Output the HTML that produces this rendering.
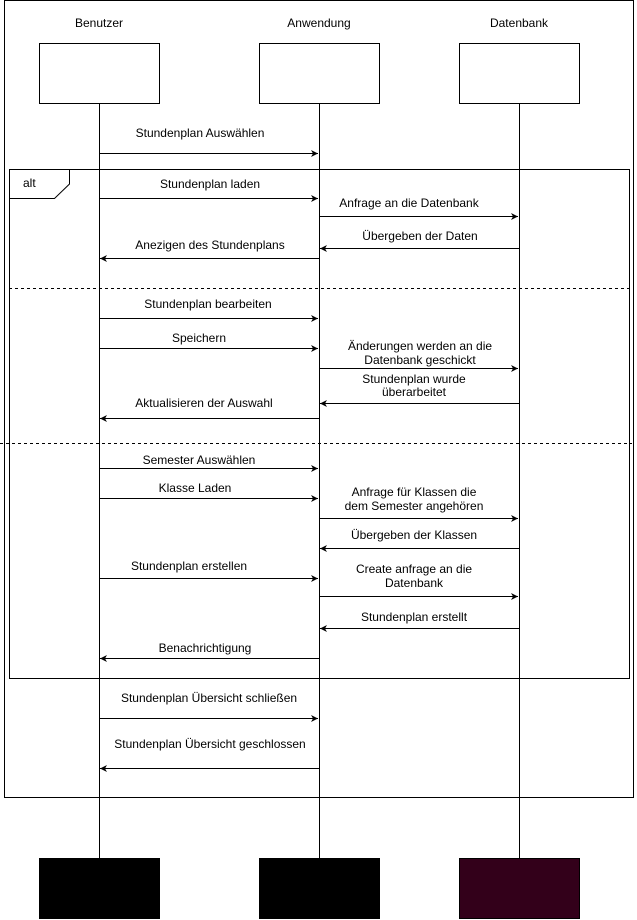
<!DOCTYPE html>
<html><head><meta charset="utf-8"><style>html,body{margin:0;padding:0;background:#fff}svg{display:block}text{font-family:"Liberation Sans",sans-serif;font-size:12px;fill:#000}</style></head><body>
<svg width="637" height="920" viewBox="0 0 637 920" xmlns="http://www.w3.org/2000/svg">
<defs><marker id="a" markerWidth="8" markerHeight="8" refX="7" refY="4" orient="auto" markerUnits="userSpaceOnUse"><path d="M0,0.5 L7,4 L0,7.5 L2,4 Z" fill="#000"/></marker></defs>
<rect x="4.5" y="0.5" width="629" height="797" fill="none" stroke="#000"/>
<g stroke="#000" fill="#fff">
<rect x="39.5" y="43.5" width="120" height="60"/>
<rect x="259.5" y="43.5" width="120" height="60"/>
<rect x="459.5" y="43.5" width="120" height="60"/>
</g>
<g stroke="#000">
<line x1="99.5" y1="104" x2="99.5" y2="858"/>
<line x1="319.5" y1="104" x2="319.5" y2="858"/>
<line x1="519.5" y1="104" x2="519.5" y2="858"/>
</g>
<rect x="39" y="858" width="121" height="61" fill="#000"/>
<rect x="259" y="858" width="121" height="61" fill="#000"/>
<rect x="459.5" y="858.5" width="120" height="60" fill="#33001a" stroke="#000"/>
<g text-anchor="middle">
<text x="99" y="27">Benutzer</text><text x="319" y="27">Anwendung</text><text x="519" y="27">Datenbank</text>
</g>
<rect x="9.5" y="169.5" width="620" height="509" fill="none" stroke="#000"/>
<path d="M9.5,198.5 H54.5 L69.5,184 V169.5" fill="none" stroke="#000"/>
<text x="23" y="187">alt</text>
<g stroke="#000" stroke-dasharray="3,3">
<line x1="9" y1="288.5" x2="630" y2="288.5"/>
<line x1="0" y1="443.5" x2="632" y2="443.5"/>
</g>
<g stroke="#000" marker-end="url(#a)">
<line x1="99" y1="153.5" x2="318" y2="153.5"/>
<line x1="99" y1="198.5" x2="318" y2="198.5"/>
<line x1="319" y1="216.5" x2="518" y2="216.5"/>
<line x1="519" y1="248.5" x2="320" y2="248.5"/>
<line x1="319" y1="258.5" x2="100" y2="258.5"/>
<line x1="99" y1="318.5" x2="318" y2="318.5"/>
<line x1="99" y1="348.5" x2="318" y2="348.5"/>
<line x1="319" y1="368.5" x2="518" y2="368.5"/>
<line x1="519" y1="403.5" x2="320" y2="403.5"/>
<line x1="319" y1="418.5" x2="100" y2="418.5"/>
<line x1="99" y1="468.5" x2="318" y2="468.5"/>
<line x1="99" y1="498.5" x2="318" y2="498.5"/>
<line x1="319" y1="518.5" x2="518" y2="518.5"/>
<line x1="519" y1="548.5" x2="320" y2="548.5"/>
<line x1="99" y1="578.5" x2="318" y2="578.5"/>
<line x1="319" y1="596.5" x2="518" y2="596.5"/>
<line x1="519" y1="628.5" x2="320" y2="628.5"/>
<line x1="319" y1="658.5" x2="100" y2="658.5"/>
<line x1="99" y1="718.5" x2="318" y2="718.5"/>
<line x1="319" y1="768.5" x2="100" y2="768.5"/>
</g>
<g text-anchor="middle">
<text x="200" y="137">Stundenplan Auswählen</text>
<text x="210" y="188">Stundenplan laden</text>
<text x="409" y="207">Anfrage an die Datenbank</text>
<text x="420" y="240">Übergeben der Daten</text>
<text x="210" y="249">Anezigen des Stundenplans</text>
<text x="208" y="308">Stundenplan bearbeiten</text>
<text x="199" y="342">Speichern</text>
<text x="420" y="350">Änderungen werden an die</text>
<text x="420" y="364">Datenbank geschickt</text>
<text x="414" y="383">Stundenplan wurde</text>
<text x="414" y="396">überarbeitet</text>
<text x="204" y="407">Aktualisieren der Auswahl</text>
<text x="199" y="464">Semester Auswählen</text>
<text x="195" y="492">Klasse Laden</text>
<text x="414" y="496">Anfrage für Klassen die</text>
<text x="414" y="510">dem Semester angehören</text>
<text x="414" y="539">Übergeben der Klassen</text>
<text x="189" y="570">Stundenplan erstellen</text>
<text x="414" y="573">Create anfrage an die</text>
<text x="414" y="587">Datenbank</text>
<text x="414" y="621">Stundenplan erstellt</text>
<text x="205" y="652">Benachrichtigung</text>
<text x="209" y="702">Stundenplan Übersicht schließen</text>
<text x="210" y="748">Stundenplan Übersicht geschlossen</text>
</g>
</svg>
</body></html>
